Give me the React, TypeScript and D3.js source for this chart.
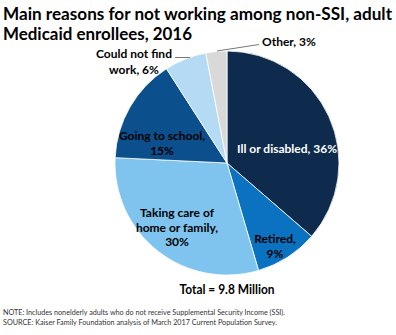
import React from "react";
import * as d3 from "d3";

const categories = ["Ill or disabled", "Retired", "Taking care of home or family", "Going to school", "Could not find work", "Other"];
const values = [36, 9, 30, 15, 6, 3];
const colors = ["#0e2b4d", "#0b72c2", "#7ec4ee", "#0b4f8c", "#b5dbf4", "#d9d9d9"];
const labelLines = [
  ["Ill or disabled, 36%"],
  ["Retired,", "9%"],
  ["Taking care of", "home or family,", "30%"],
  ["Going to school,", "15%"],
  ["Could not find", "work, 6%"],
  ["Other, 3%"],
];
const title = ["Main reasons for not working among non-SSI, adult", "Medicaid enrollees, 2016"];
const total = "Total = 9.8 Million";
const notes = [
  "NOTE: Includes nonelderly adults who do not receive Supplemental Security Income (SSI).",
  "SOURCE: Kaiser Family Foundation analysis of March 2017 Current Population Survey.",
];

export default function App() {
  const W = 396, H = 335;
  const cx = 227, cy = 163, r = 112;
  const pie = d3.pie<number>().sort(null).value((d) => d);
  const arcs = pie(values);
  const arc = d3.arc<d3.PieArcDatum<number>>().innerRadius(0).outerRadius(r);
  const font = "Lato, 'Open Sans', sans-serif";
  const titleLen = [389, 189];
  const noteLen = [282, 274];

  return (
    <svg width={W} height={H} style={{ position: "absolute", left: 0, top: 0, background: "#fff" }}>
      {title.map((t, i) => (
        <text key={i} x={3} y={20 + i * 20} fontFamily={font} fontWeight={700} fontSize={16.6} fill="#000"
          textLength={titleLen[i]} lengthAdjust="spacingAndGlyphs">
          {t}
        </text>
      ))}
      <g transform={`translate(${cx},${cy})`}>
        {arcs.map((a, i) => (
          <path key={categories[i]} d={arc(a) || ""} fill={colors[i]} stroke="#fff" strokeWidth={0.8} />
        ))}
        {[0, 1, 2, 3].map((i) => {
          const lines = labelLines[i];
          const lh = 14.5;
          const x = [60, 48, -50, -65][i];
          const y0 = [-14, 76, 50, -27][i];
          return (
            <text key={i} textAnchor="middle" fontFamily={font} fontWeight={700} fontSize={12} fill={i === 0 ? "#fff" : "#000"}>
              {lines.map((l, j) => (
                <tspan key={j} x={x} y={y0 + j * lh + 4}>
                  {l}
                </tspan>
              ))}
            </text>
          );
        })}
      </g>
      <text textAnchor="middle" fontFamily={font} fontWeight={700} fontSize={12} fill="#000">
        {labelLines[4].map((l, j) => (
          <tspan key={j} x={134} y={58 + j * 16}>
            {l}
          </tspan>
        ))}
      </text>
      <line x1={175} y1={57.5} x2={190} y2={57.5} stroke="#777" strokeWidth={1} />
      <text x={262} y={46} fontFamily={font} fontWeight={700} fontSize={12} fill="#000">
        {labelLines[5][0]}
      </text>
      <line x1={217} y1={51} x2={259} y2={44.5} stroke="#777" strokeWidth={1} />
      <text x={cx} y={294} textAnchor="middle" fontFamily={font} fontWeight={700} fontSize={13.5} fill="#000"
        textLength={95} lengthAdjust="spacingAndGlyphs">
        {total}
      </text>
      {notes.map((n, i) => (
        <text key={i} x={3} y={315 + i * 10} fontFamily={font} fontSize={7.6} fill="#333"
          textLength={noteLen[i]} lengthAdjust="spacingAndGlyphs">
          {n}
        </text>
      ))}
    </svg>
  );
}
